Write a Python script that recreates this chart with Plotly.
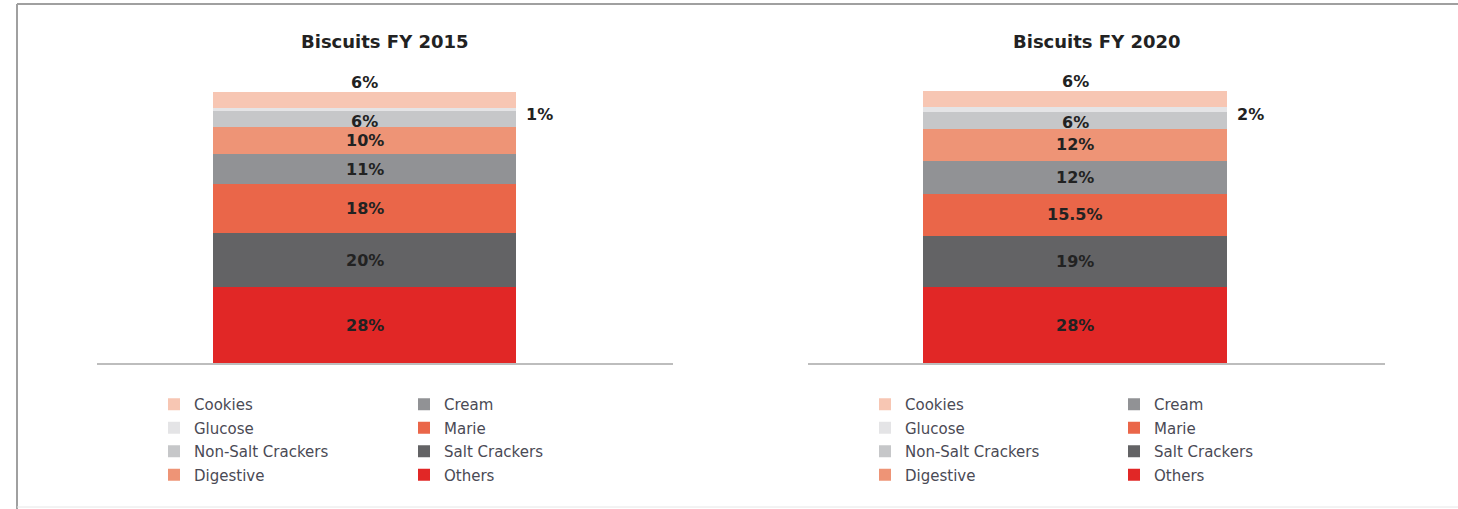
import plotly.graph_objects as go

W, H = 1458, 509

categories = ["Others", "Salt Crackers", "Marie", "Cream", "Digestive",
              "Non-Salt Crackers", "Glucose", "Cookies"]
values_2015 = [28, 20, 18, 11, 10, 6, 1, 6]
values_2020 = [28, 19, 15.5, 12, 12, 6, 2, 6]
labels_2015 = ["28%", "20%", "18%", "11%", "10%", "6%", "1%", "6%"]
labels_2020 = ["28%", "19%", "15.5%", "12%", "12%", "6%", "2%", "6%"]
panel_titles = ["Biscuits FY 2015", "Biscuits FY 2020"]
years = ["FY 2015", "FY 2020"]

colors = {
    "Cookies": "#F7C6B3",
    "Glucose": "#E4E4E6",
    "Non-Salt Crackers": "#C6C7C9",
    "Digestive": "#EE9476",
    "Cream": "#919295",
    "Marie": "#EA6649",
    "Salt Crackers": "#636365",
    "Others": "#E12726",
}
legend_col1 = ["Cookies", "Glucose", "Non-Salt Crackers", "Digestive"]
legend_col2 = ["Cream", "Marie", "Salt Crackers", "Others"]

FONT = "DejaVu Sans"
TEXT = "#222222"

fig = go.Figure()

panels = [
    dict(vals=values_2015, labs=labels_2015, xa="x", ya="y", legs=("legend", "legend2")),
    dict(vals=values_2020, labs=labels_2020, xa="x2", ya="y2", legs=("legend3", "legend4")),
]

annotations = []
bar_w = 0.6
lab_font = dict(family=FONT, size=16, color=TEXT, weight="bold")
for p_i, p in enumerate(panels):
    cum = 0
    for c_i, cat in enumerate(categories):
        v = p["vals"][c_i]
        leg = p["legs"][0] if cat in legend_col1 else p["legs"][1]
        rank = (legend_col1.index(cat) if cat in legend_col1 else legend_col2.index(cat))
        fig.add_trace(go.Bar(
            x=[years[p_i]], y=[v], name=cat, width=bar_w,
            marker=dict(color=colors[cat], line=dict(width=0)),
            xaxis=p["xa"], yaxis=p["ya"], legend=leg,
            legendrank=rank, legendgroup=f"{cat}{p_i}",
            hovertemplate=f"{cat}: {p['labs'][c_i]}<extra></extra>",
        ))
        mid = cum + v / 2
        if cat == "Cookies":
            annotations.append(dict(x=years[p_i], y=cum + v, xref=p["xa"], yref=p["ya"],
                                    text=p["labs"][c_i], showarrow=False, yanchor="bottom",
                                    yshift=-2, font=lab_font))
        elif cat == "Glucose":
            annotations.append(dict(x=bar_w / 2, y=mid, xref=p["xa"], yref=p["ya"],
                                    text=p["labs"][c_i], showarrow=False, xanchor="left",
                                    xshift=8, yshift=-5, font=lab_font))
        else:
            annotations.append(dict(x=years[p_i], y=mid, xref=p["xa"], yref=p["ya"],
                                    text=p["labs"][c_i], showarrow=False,
                                    yshift=-2 if cat == "Non-Salt Crackers" else 0,
                                    font=lab_font))
        cum += v

# titles
for t, xc in zip(panel_titles, [385, 1097]):
    annotations.append(dict(x=xc / W, y=1 - 41 / H, xref="paper", yref="paper", text=t,
                            showarrow=False, xanchor="center", yanchor="middle",
                            font=dict(family=FONT, size=18, color=TEXT, weight="bold")))

def xdom(a, b):
    return [a / W, b / W]

y_dom = [1 - 363 / H, 1.0]
px_per_unit = 271 / 100.0
y_top = 363 / px_per_unit

def xrange(dom_l, dom_r, bar_l, bar_r):
    dom_w = dom_r - dom_l
    L = dom_w * bar_w / (bar_r - bar_l)
    center = (bar_l + bar_r) / 2
    left = -(center - dom_l) / dom_w * L
    return [left, left + L]

axis_common = dict(showline=True, linecolor="#BDBDBD", linewidth=2, showgrid=False,
                   zeroline=False, showticklabels=False, ticks="", type="category", fixedrange=True)
yaxis_common = dict(visible=False, showgrid=False, zeroline=False, range=[0, y_top], fixedrange=True)

legend_common = dict(orientation="v", bgcolor="rgba(0,0,0,0)", borderwidth=0,
                     font=dict(family=FONT, size=15, color="#4A4A55"),
                     tracegroupgap=1, xanchor="left", yanchor="top", traceorder="grouped",
                     itemclick=False, itemdoubleclick=False)
leg_y = 1 - 388 / H

fig.update_layout(
    width=W, height=H,
    margin=dict(l=0, r=0, t=0, b=0),
    paper_bgcolor="white", plot_bgcolor="white",
    barmode="stack", bargap=0,
    showlegend=True,
    xaxis=dict(domain=xdom(97, 673), range=xrange(97, 673, 213, 516), anchor="y", **axis_common),
    yaxis=dict(domain=y_dom, anchor="x", **yaxis_common),
    xaxis2=dict(domain=xdom(808, 1385), range=xrange(808, 1385, 923, 1227), anchor="y2", **axis_common),
    yaxis2=dict(domain=y_dom, anchor="x2", **yaxis_common),
    legend=dict(x=154 / W, y=leg_y, **legend_common),
    legend2=dict(x=404 / W, y=leg_y, **legend_common),
    legend3=dict(x=865 / W, y=leg_y, **legend_common),
    legend4=dict(x=1114 / W, y=leg_y, **legend_common),
    annotations=annotations,
    shapes=[
        dict(type="line", xref="paper", yref="paper", x0=17 / W, x1=1.0, y0=1 - 4 / H, y1=1 - 4 / H,
             line=dict(color="#A0A0A0", width=2)),
        dict(type="line", xref="paper", yref="paper", x0=17 / W, x1=17 / W, y0=0, y1=1 - 4 / H,
             line=dict(color="#A0A0A0", width=2)),
        dict(type="line", xref="paper", yref="paper", x0=17 / W, x1=1.0, y0=1 - 507 / H, y1=1 - 507 / H,
             line=dict(color="#E6E6E6", width=1)),
    ],
)

fig.write_html("out.html", config={"displayModeBar": False},
               post_script="document.body.style.margin='0';document.body.style.overflow='hidden';")
